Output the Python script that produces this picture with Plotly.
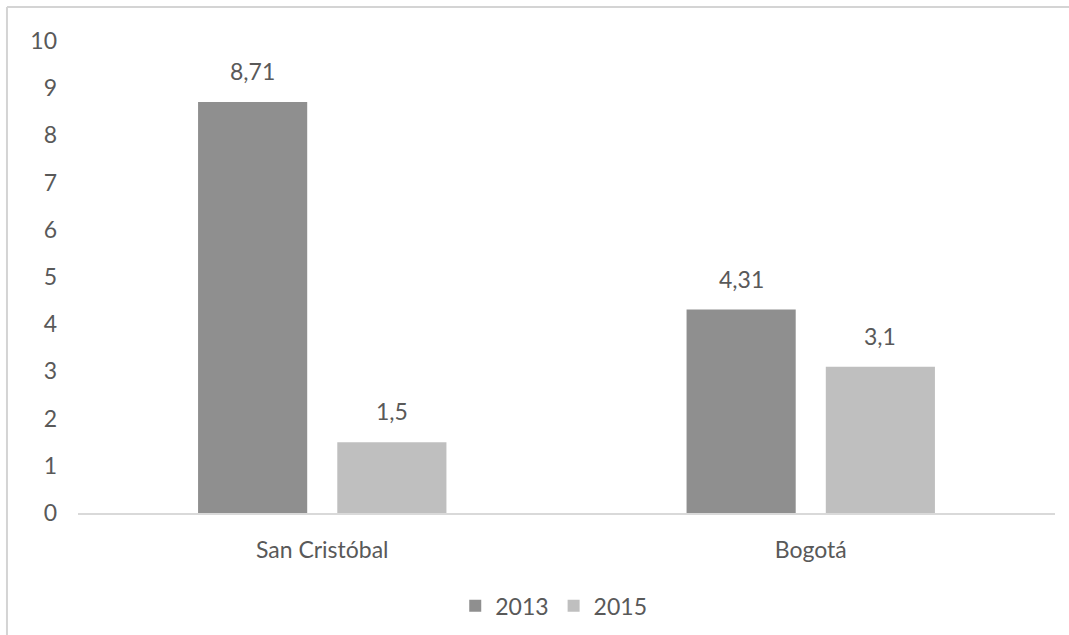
import plotly.graph_objects as go

categories = ["San Cristóbal", "Bogotá"]
series_names = ["2013", "2015"]
values_2013 = [8.71, 4.31]
values_2015 = [1.5, 3.1]
y_ticks = list(range(0, 11))

colors = {"2013": "#8f8f8f", "2015": "#bfbfbf"}
font_family = "Lato, 'Open Sans', sans-serif"
text_color = "#595959"
fs = 23

fig = go.Figure()
series = {"2013": values_2013, "2015": values_2015}
for name in series_names:
    vals = series[name]
    fig.add_trace(go.Bar(
        x=categories, y=vals, name=name,
        marker=dict(color=colors[name], line=dict(width=0)),
        textposition="none",
        hoverinfo="skip",
    ))

# data labels above bars
offsets = {"2013": -69.5, "2015": 69.5}
for name in series_names:
    vals = series[name]
    for c, v in zip(categories, vals):
        fig.add_annotation(
            x=c, y=v, xref="x", yref="y",
            text=str(v).replace(".", ","),
            showarrow=False, xshift=offsets[name], yshift=15,
            yanchor="bottom", font=dict(size=fs, color=text_color, family=font_family),
        )

# chart outer border (top and left visible)
bx, by = -0.0727, 1.072
fig.add_shape(type="line", xref="paper", yref="paper",
              x0=bx, x1=1.03, y0=by, y1=by,
              line=dict(color="#d4d4d4", width=2))
fig.add_shape(type="line", xref="paper", yref="paper",
              x0=bx, x1=bx, y0=by, y1=-0.30,
              line=dict(color="#d4d4d4", width=2))

fig.update_layout(
    width=1069, height=635,
    margin=dict(l=78, r=14, t=41, b=122, autoexpand=False),
    paper_bgcolor="white", plot_bgcolor="white",
    barmode="group", bargap=0.43, bargroupgap=0.216,
    font=dict(family=font_family, size=fs, color=text_color),
    showlegend=True,
    legend=dict(orientation="h", xref="container", yref="container",
                x=0.518, xanchor="center", y=0.046, yanchor="middle",
                font=dict(size=fs, color=text_color), itemwidth=30,
                tracegroupgap=0, bgcolor="rgba(0,0,0,0)"),
    xaxis=dict(showline=True, linecolor="#d9d9d9", linewidth=2, showgrid=False,
               ticks="", ticklabelstandoff=15, zeroline=False,
               tickfont=dict(size=fs, color=text_color)),
    yaxis=dict(range=[0, 10], tickvals=y_ticks, showgrid=False, zeroline=False,
               showline=False, ticks="", ticklabelstandoff=20,
               tickfont=dict(size=fs, color=text_color)),
)

fig.write_html("out.html", config={"displayModeBar": False},
               post_script="document.body.style.margin='0';document.body.style.overflow='hidden';")
